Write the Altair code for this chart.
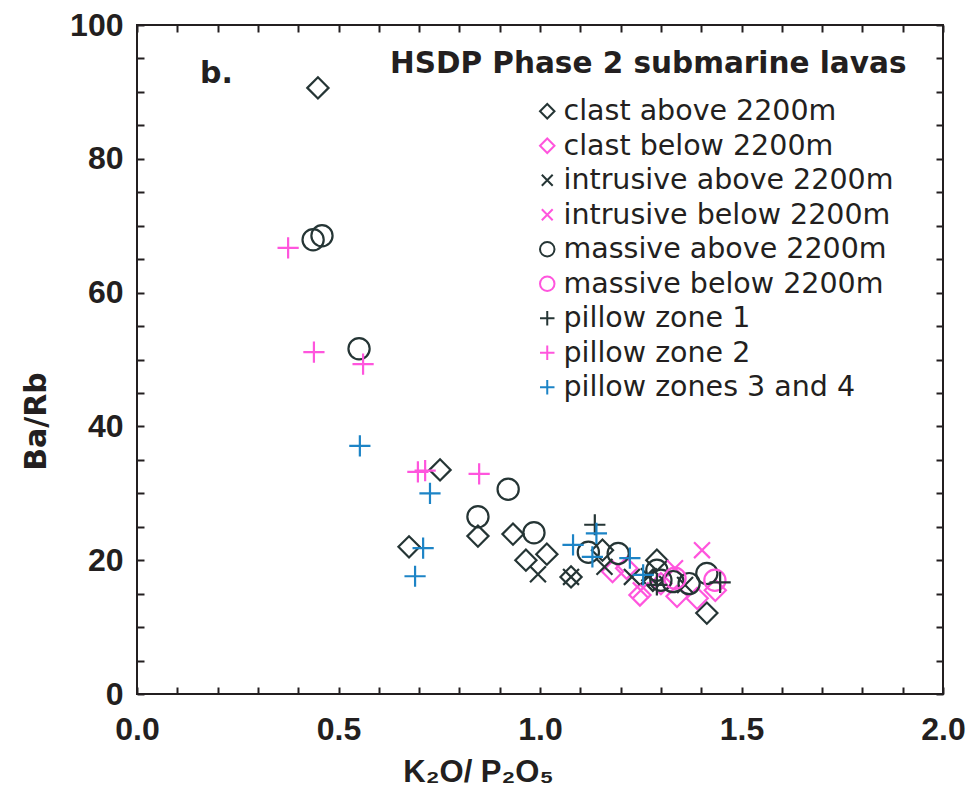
import altair as alt
import pandas as pd

categories = ["clast above 2200m", "clast below 2200m", "intrusive above 2200m",
              "intrusive below 2200m", "massive above 2200m", "massive below 2200m",
              "pillow zone 1", "pillow zone 2", "pillow zones 3 and 4"]

clast_above_x = [0.449, 0.752, 0.675, 0.846, 0.933, 0.965, 1.017, 1.077, 1.155, 1.290, 1.280, 1.414]
clast_above_y = [90.6, 33.5, 22.0, 23.6, 23.9, 20.0, 20.9, 17.5, 21.5, 20.0, 17.0, 12.1]
clast_below_x = [1.180, 1.215, 1.248, 1.300, 1.340, 1.390, 1.435]
clast_below_y = [18.3, 18.8, 14.8, 16.5, 14.6, 14.3, 15.5]
intrusive_above_x = [0.995, 1.077, 1.160, 1.228, 1.270, 1.360]
intrusive_above_y = [17.9, 17.5, 19.0, 17.5, 17.6, 16.3]
intrusive_below_x = [1.250, 1.335, 1.402]
intrusive_below_y = [15.5, 18.8, 21.5]
massive_above_x = [0.437, 0.459, 0.551, 0.846, 0.921, 0.985, 1.120, 1.194, 1.290, 1.300, 1.330, 1.370, 1.414]
massive_above_y = [67.9, 68.5, 51.6, 26.5, 30.6, 24.1, 21.2, 21.0, 18.5, 17.0, 16.8, 16.5, 18.0]
massive_below_x = [1.335, 1.434]
massive_below_y = [17.3, 17.0]
pillow1_x = [1.136, 1.290, 1.447]
pillow1_y = [25.3, 16.3, 16.7]
pillow2_x = [0.375, 0.439, 0.561, 0.697, 0.715, 0.849]
pillow2_y = [66.7, 51.1, 49.3, 33.2, 33.4, 32.9]
pillow34_x = [0.553, 0.727, 0.710, 0.690, 1.082, 1.140, 1.130, 1.223, 1.256]
pillow34_y = [37.1, 30.0, 21.8, 17.6, 22.3, 24.0, 20.5, 20.3, 17.8]

x_major = [0.0, 0.5, 1.0, 1.5, 2.0]
y_major = [0, 20, 40, 60, 80, 100]
x_minor = [round(i * 0.1, 1) for i in range(21)]
y_minor = list(range(0, 101, 5))

panel_label = "b."
panel_title = "HSDP Phase 2 submarine lavas"

series = [
    (clast_above_x, clast_above_y), (clast_below_x, clast_below_y),
    (intrusive_above_x, intrusive_above_y), (intrusive_below_x, intrusive_below_y),
    (massive_above_x, massive_above_y), (massive_below_x, massive_below_y),
    (pillow1_x, pillow1_y), (pillow2_x, pillow2_y), (pillow34_x, pillow34_y),
]
rows = []
for cat, (xs, ys) in zip(categories, series):
    for xv, yv in zip(xs, ys):
        rows.append({"x": xv, "y": yv, "cat": cat})
df = pd.DataFrame(rows)

DARK = "#253535"
PINK = "#ff55dd"
BLUE = "#1d84c6"
INK = "#231f20"
colors = [DARK, PINK, DARK, PINK, DARK, PINK, DARK, PINK, BLUE]
XSHAPE = "M-0.75,-0.75L0.75,0.75M-0.75,0.75L0.75,-0.75"
PLUS = "M-1,0L1,0M0,-1L0,1"
shapes = ["diamond", "diamond", XSHAPE, XSHAPE, "circle", "circle", PLUS, PLUS, PLUS]

W, H = 806, 669
FONT = "Liberation Sans, Arial, DejaVu Sans"
WIDE = "DejaVu Sans, Liberation Sans, sans-serif"
xscale = alt.Scale(domain=[0, 2], nice=False, zero=False)
yscale = alt.Scale(domain=[0, 100], nice=False, zero=False)

legend = alt.Legend(title=None, orient="none", legendX=396, legendY=72, padding=0,
                    labelFont=WIDE, labelFontSize=28.5, labelColor=INK, labelOffset=2,
                    symbolSize=210, symbolStrokeWidth=2, rowPadding=5.5, labelLimit=500)

points = alt.Chart(df).mark_point(filled=False, size=450, strokeWidth=2.2, opacity=1).encode(
    x=alt.X("x:Q", scale=xscale,
            axis=alt.Axis(orient="bottom", values=x_major, format=".1f", ticks=False,
                          domain=False, grid=False, labelFont=FONT, labelFontSize=32,
                          labelFontWeight="bold", labelColor=INK, labelPadding=20,
                          labelFlush=False, title="K₂O/ P₂O₅", titleFont=FONT,
                          titleFontSize=31, titleFontWeight="bold", titleColor=INK,
                          titleX=341, titleY=87, titleBaseline="alphabetic")),
    y=alt.Y("y:Q", scale=yscale,
            axis=alt.Axis(orient="left", values=y_major, ticks=False, domain=False,
                          grid=False, labelFont=FONT, labelFontSize=32,
                          labelFontWeight="bold", labelColor=INK, labelPadding=14,
                          labelFlush=False, title="Ba/Rb", titleFont=WIDE,
                          titleFontSize=30, titleFontWeight="bold", titleColor=INK,
                          titleAngle=270, titleX=-92, titleY=396,
                          titleAlign="center", titleBaseline="alphabetic")),
    color=alt.Color("cat:N", scale=alt.Scale(domain=categories, range=colors), legend=legend),
    shape=alt.Shape("cat:N", scale=alt.Scale(domain=categories, range=shapes), legend=legend),
)

tick_common = dict(labels=False, domain=False, grid=False, title="", tickSize=7,
                   tickWidth=2, tickColor=INK)

ticks_a = alt.Chart(df).mark_point(opacity=0).encode(
    x=alt.X("x:Q", scale=xscale, axis=alt.Axis(orient="top", offset=-H, values=x_minor, **tick_common)),
    y=alt.Y("y:Q", scale=yscale, axis=alt.Axis(orient="right", offset=-W, values=y_minor, **tick_common)),
)
ticks_b = alt.Chart(df).mark_point(opacity=0).encode(
    x=alt.X("x:Q", scale=xscale, axis=alt.Axis(orient="bottom", offset=-H, values=x_minor, **tick_common)),
    y=alt.Y("y:Q", scale=yscale, axis=alt.Axis(orient="left", offset=-W, values=y_minor, **tick_common)),
)

title_text = alt.Chart(pd.DataFrame({"t": [panel_title]})).mark_text(
    font=WIDE, fontSize=29.5, fontWeight="bold", color=INK, align="left", baseline="alphabetic"
).encode(text="t:N", x=alt.value(253), y=alt.value(48))

label_text = alt.Chart(pd.DataFrame({"t": [panel_label]})).mark_text(
    font=WIDE, fontSize=30, fontWeight="bold", color=INK, align="left", baseline="alphabetic"
).encode(text="t:N", x=alt.value(63), y=alt.value(58))

chart = alt.layer(ticks_a, ticks_b, points, title_text, label_text).resolve_axis(
    x="independent", y="independent"
).properties(
    width=W, height=H,
    autosize=alt.AutoSizeParams(type="none"),
    padding={"left": 137, "top": 25, "right": 32, "bottom": 99},
    background="white",
).configure_view(stroke=INK, strokeWidth=2)

chart.save("out.html", embed_options={"renderer": "svg", "actions": False})
